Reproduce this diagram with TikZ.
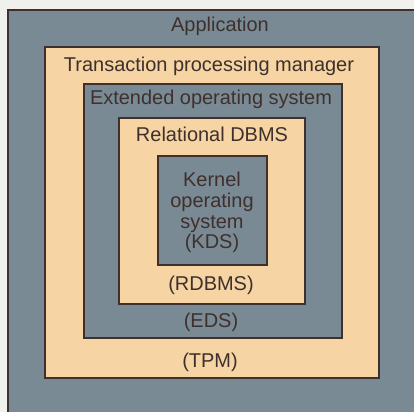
\documentclass[tikz,border=0pt]{standalone}
\usepackage{fontspec}
\setmainfont{Liberation Sans}
\definecolor{slate}{RGB}{122,138,148}
\definecolor{peach}{RGB}{246,212,164}
\definecolor{ink}{RGB}{62,48,44}
\definecolor{paper}{RGB}{240,240,236}
\begin{document}
\begin{tikzpicture}[x=0.025cm,y=-0.025cm,
		layer/.style={draw=ink,line width=1.4pt},
		lbl/.style={anchor=base,text=ink,inner sep=0pt,font=\fontsize{14.2}{16}\selectfont}]
	\useasboundingbox (0,0) rectangle (414,412) ;
	\clip (0,0) rectangle (414,412) ;
	\fill[paper] (0,0) rectangle (414,412) ;
	% nested layers, outside in
	\draw[layer,fill=slate] (8,10) rectangle (440,440) ;
	\draw[layer,fill=peach] (45,47) rectangle (379,378) ;
	\draw[layer,fill=slate] (84,84) rectangle (342,338) ;
	\draw[layer,fill=peach] (119,118) rectangle (305,304) ;
	\draw[layer,fill=slate] (158,156) rectangle (267,265) ;
		\node (app)[lbl] at (220, 32) {Application} ;
		\node (tpm)[lbl] at (209, 72) {Transaction processing manager} ;
		\node (eds)[lbl] at (211, 105) {Extended operating system} ;
		\node (rdbms)[lbl] at (212, 142) {Relational DBMS} ;
		\node (kds1)[lbl] at (212, 187) {Kernel} ;
		\node (kds2)[lbl] at (212, 208) {operating} ;
		\node (kds3)[lbl] at (212, 229) {system} ;
		\node (kds4)[lbl] at (212, 249) {(KDS)} ;
		\node (rdbmsb)[lbl] at (211, 291) {(RDBMS)} ;
		\node (edsb)[lbl] at (211, 327) {(EDS)} ;
		\node (tpmb)[lbl] at (210, 367) {(TPM)} ;
\end{tikzpicture}
\end{document}
